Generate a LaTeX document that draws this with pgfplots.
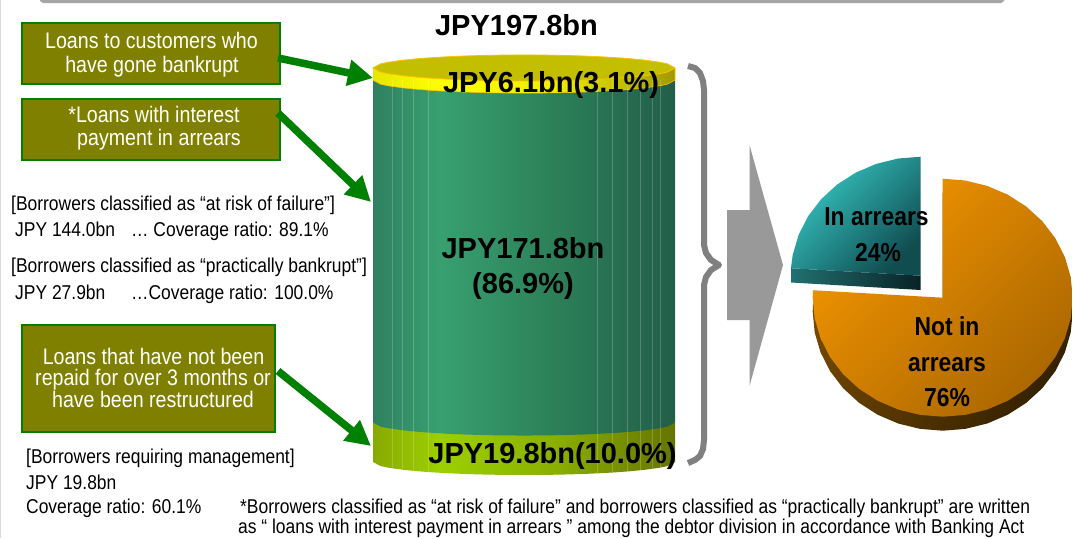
\documentclass[border=0pt]{standalone}
\usepackage{fontspec}
\setmainfont{Liberation Sans}
\newfontfamily\nrw{Liberation Sans}[FakeStretch=0.872]
\newfontfamily\bnrw{Liberation Sans Bold}[FakeStretch=0.88]
\usepackage{pgfplots}
\usepackage{pgfplotstable}
\pgfplotsset{compat=1.18}
\usetikzlibrary{arrows.meta}

% Body shadings of the cylinder, lit from the left
\definecolor{gA}{HTML}{2F8060}\definecolor{gB}{HTML}{38A070}\definecolor{gC}{HTML}{2C8058}\definecolor{gD}{HTML}{225E4A}
\definecolor{yA}{HTML}{E6E600}\definecolor{yB}{HTML}{FFFF00}\definecolor{yC}{HTML}{EEEE00}\definecolor{yD}{HTML}{A09A00}
\definecolor{lA}{HTML}{88AA00}\definecolor{lB}{HTML}{9CD000}\definecolor{lC}{HTML}{8AB000}\definecolor{lD}{HTML}{667400}
\pgfdeclarehorizontalshading{bodygreen}{100bp}{color(0bp)=(gA);color(25bp)=(gA);color(36bp)=(gB);color(55bp)=(gC);color(75bp)=(gD);color(100bp)=(gD)}
\pgfdeclarehorizontalshading{bodyyellow}{100bp}{color(0bp)=(yA);color(25bp)=(yA);color(36bp)=(yB);color(55bp)=(yC);color(75bp)=(yD);color(100bp)=(yD)}
\pgfdeclarehorizontalshading{bodylime}{100bp}{color(0bp)=(lA);color(25bp)=(lA);color(36bp)=(lB);color(55bp)=(lC);color(75bp)=(lD);color(100bp)=(lD)}
\definecolor{olivebox}{HTML}{808000}
\definecolor{greenline}{HTML}{008000}
\definecolor{capyellow}{HTML}{C4BE00}
\definecolor{capline}{HTML}{FFC000}

% Lower edge of a band: x in chart units, sag below the band's base, side 1 = top corners
\pgfplotstableread{
x sag side
373 0 0
380.55 2.04 0
388.1 2.85 0
403.2 3.91 0
418.3 4.66 0
433.4 5.22 0
448.5 5.65 0
463.6 5.98 0
478.7 6.22 0
493.8 6.39 0
508.9 6.49 0
524 6.52 0
539.1 6.49 0
554.2 6.39 0
569.3 6.22 0
584.4 5.98 0
599.5 5.65 0
614.6 5.22 0
629.7 4.66 0
644.8 3.91 0
659.9 2.85 0
667.45 2.04 0
675 0 0
675 0 1
373 0 1
}\bandshape

% Top rim of the cylinder
\pgfplotstableread{
x sag
373 0
380.55 2.04
388.1 2.85
403.2 3.91
418.3 4.66
433.4 5.22
448.5 5.65
463.6 5.98
478.7 6.22
493.8 6.39
508.9 6.49
524 6.52
539.1 6.49
554.2 6.39
569.3 6.22
584.4 5.98
599.5 5.65
614.6 5.22
629.7 4.66
644.8 3.91
659.9 2.85
667.45 2.04
675 0
667.45 -2.04
659.9 -2.85
644.8 -3.91
629.7 -4.66
614.6 -5.22
599.5 -5.65
584.4 -5.98
569.3 -6.22
554.2 -6.39
539.1 -6.49
524 -6.52
508.9 -6.49
493.8 -6.39
478.7 -6.22
463.6 -5.98
448.5 -5.65
433.4 -5.22
418.3 -4.66
403.2 -3.91
388.1 -2.85
380.55 -2.04
}\capshape

% Pie sectors on the unit circle: 24% from 90 degrees, 76% for the rest
\pgfplotstableread{
c s
0 0
0 1
-0.1736 0.9848
-0.342 0.9397
-0.5 0.866
-0.6428 0.766
-0.766 0.6428
-0.866 0.5
-0.9397 0.342
-0.9848 0.1736
-0.998 0.0628
}\sectorarrears
\pgfplotstableread{
c s
0 0
-0.998 0.0628
-1 0
-0.9848 -0.1736
-0.9397 -0.342
-0.866 -0.5
-0.766 -0.6428
-0.6428 -0.766
-0.5 -0.866
-0.342 -0.9397
-0.1736 -0.9848
0 -1
0.1736 -0.9848
0.342 -0.9397
0.5 -0.866
0.6428 -0.766
0.766 -0.6428
0.866 -0.5
0.9397 -0.342
0.9848 -0.1736
1 0
0.9848 0.1736
0.9397 0.342
0.866 0.5
0.766 0.6428
0.6428 0.766
0.5 0.866
0.342 0.9397
0.1736 0.9848
0 1
}\sectornot

\newcommand{\regtext}[3]{\node[anchor=base west,inner sep=0pt,text=black] at (axis cs:#1,#2) {\nrw\fontsize{20}{24}\selectfont #3};}
\newcommand{\boxtext}[3]{\node[anchor=base,inner sep=0pt,text=white] at (axis cs:#1,#2) {\nrw\fontsize{22.5}{26}\selectfont #3};}
\newcommand{\boldtext}[3]{\node[anchor=base,inner sep=0pt,text=black] at (axis cs:#1,#2) {\bfseries\fontsize{29}{32}\selectfont #3};}
\newcommand{\pietext}[3]{\node[anchor=base,inner sep=0pt,text=black] at (axis cs:#1,#2) {\bnrw\fontsize{26}{30}\selectfont #3};}

\begin{document}
\begin{tikzpicture}
\fill[white,use as bounding box] (0,0) rectangle (1073pt,538pt);

% Cylinder: heights in JPY bn, stacked from the bottom
\begin{axis}[at={(0,0)},anchor=south west,scale only axis,width=1073pt,height=538pt,
  hide axis,xmin=0,xmax=1073,ymin=-38.13,ymax=231.8,unbounded coords=jump]
\addplot[forget plot,shade,shading=bodylime,draw=none]
  table[x=x,y expr={19.8*\thisrow{side}-\thisrow{sag}}] {\bandshape};
\addplot[forget plot,shade,shading=bodygreen,draw=none]
  table[x=x,y expr={19.8+171.8*\thisrow{side}-\thisrow{sag}}] {\bandshape};
\addplot[forget plot,shade,shading=bodyyellow,draw=capline,line width=0.6pt]
  table[x=x,y expr={191.6+6.1*\thisrow{side}-\thisrow{sag}}] {\bandshape};
\addplot[forget plot,fill=capyellow,draw=capline,line width=0.8pt]
  table[x=x,y expr={197.7-\thisrow{sag}}] {\capshape} -- cycle;
% Facet lines
\addplot[forget plot,white,opacity=0.2,line width=0.7pt] coordinates {
(392,191.6)(392,-2.5) (392,nan)
(402,191.6)(402,-3.5) (402,nan)
(413,191.6)(413,-4.3) (413,nan)
(428,191.6)(428,-5) (428,nan)
(597,191.6)(597,-5.7) (597,nan)
(612,191.6)(612,-5.2) (612,nan)
(627,191.6)(627,-4.7) (627,nan)
(640,191.6)(640,-4) (640,nan)
(652,191.6)(652,-3.3) (652,nan)
(660,191.6)(660,-2.8)
};
\end{axis}

% Everything else, in drawing units with y running downward
\begin{axis}[at={(0,0)},anchor=south west,scale only axis,width=1073pt,height=538pt,
  hide axis,xmin=0,xmax=1073,ymin=0,ymax=538,y dir=reverse,clip=false]
% Header strip and left rule
\addplot[forget plot,fill=black!35,draw=none] coordinates {(40,0)(1004,0)(1004,1)(1001,3)(43,3)(40,1)} -- cycle;
\addplot[forget plot,draw=black!15,line width=1pt] coordinates {(0.5,0)(0.5,538)};

% Brace
\addplot[forget plot,draw=black!50,line width=6pt,line join=round] coordinates {
(688,66)(695,68)(700,73)(703,81)(704,90)(704,245)(706,253)(711,260)(719,265)
(711,270)(706,277)(704,285)(704,440)(703,449)(700,456)(695,460)(688,463)};

% Block arrow into the pie
\addplot[forget plot,fill=black!40,draw=none] coordinates {
(727,210)(749.5,210)(749.5,145)(783,265)(749.5,386)(749.5,320)(727,320)} -- cycle;

% Pie, in arrears sector pulled out
\addplot[forget plot,shade,top color={rgb,255:red,122;green,76;blue,0},bottom color={rgb,255:red,54;green,34;blue,0},shading angle=60,draw=none]
  table[x expr={942.7+130*\thisrow{c}},y expr={311.7-119*\thisrow{s}}] {\sectornot} -- cycle;
\addplot[forget plot,shade,top color={rgb,255:red,242;green,148;blue,0},bottom color={rgb,255:red,172;green,104;blue,0},shading angle=45,draw=none]
  table[x expr={942.7+130*\thisrow{c}},y expr={297.7-119*\thisrow{s}}] {\sectornot} -- cycle;
\addplot[forget plot,shade,left color={rgb,255:red,34;green,112;blue,112},right color={rgb,255:red,8;green,34;blue,38},draw=none]
  coordinates {(791,268.2)(920.7,275.7)(920.7,290)(791,282.5)} -- cycle;
\addplot[forget plot,shade,top color={rgb,255:red,54;green,200;blue,196},bottom color={rgb,255:red,16;green,76;blue,80},shading angle=45,draw=none]
  table[x expr={920.7+130*\thisrow{c}},y expr={275.7-119*\thisrow{s}}] {\sectorarrears} -- cycle;

% Green callout boxes
\draw[fill=olivebox,draw=greenline,line width=2pt] (axis cs:22,23) rectangle (axis cs:280,84);
\draw[fill=olivebox,draw=greenline,line width=2pt] (axis cs:22,99) rectangle (axis cs:280,160);
\draw[fill=olivebox,draw=greenline,line width=2pt] (axis cs:22,325) rectangle (axis cs:275,432);

% Leader arrows
\draw[greenline,line width=7.5pt,-{Triangle[length=25pt,width=25pt]}] (axis cs:278,58) -- (axis cs:373,78);
\draw[greenline,line width=7.5pt,-{Triangle[length=25pt,width=25pt]}] (axis cs:278,113) -- (axis cs:371,202);
\draw[greenline,line width=7.5pt,-{Triangle[length=25pt,width=25pt]}] (axis cs:278,371) -- (axis cs:371,446);

% Callout text
\boxtext{151.5}{48}{Loans to customers who}
\boxtext{152}{72}{have gone bankrupt}
\boxtext{154}{122}{*Loans with interest}
\boxtext{159}{145}{payment in arrears}
\boxtext{153.5}{364}{Loans that have not been}
\boxtext{153}{385.5}{repaid for over 3 months or}
\boxtext{153}{407}{have been restructured}

% Side notes
\regtext{11}{210}{[Borrowers classified as “at risk of failure”]}
\regtext{15}{236.5}{JPY 144.0bn}
\regtext{131}{236.5}{… Coverage ratio: 89.1\%}
\regtext{11}{272}{[Borrowers classified as “practically bankrupt”]}
\regtext{15}{299}{JPY 27.9bn}
\regtext{131}{299}{…Coverage ratio: 100.0\%}
\regtext{26}{463}{[Borrowers requiring management]}
\regtext{26}{489}{JPY 19.8bn}
\regtext{26}{513}{Coverage ratio: 60.1\%}
\regtext{240}{513}{*Borrowers classified as “at risk of failure” and borrowers classified as “practically bankrupt” are written}
\regtext{238}{533.5}{as “ loans with interest payment in arrears ” among the debtor division in accordance with Banking Act}

% Amounts on the cylinder
\boldtext{516.5}{35}{JPY197.8bn}
\boldtext{551}{92}{JPY6.1bn(3.1\%)}
\boldtext{523}{258}{JPY171.8bn}
\boldtext{523}{293}{(86.9\%)}
\boldtext{552.5}{463}{JPY19.8bn(10.0\%)}

% Pie labels
\pietext{876.5}{225}{In arrears}
\pietext{878}{261}{24\%}
\pietext{947}{335}{Not in}
\pietext{947}{371}{arrears}
\pietext{947}{406}{76\%}
\end{axis}
\end{tikzpicture}
\end{document}
